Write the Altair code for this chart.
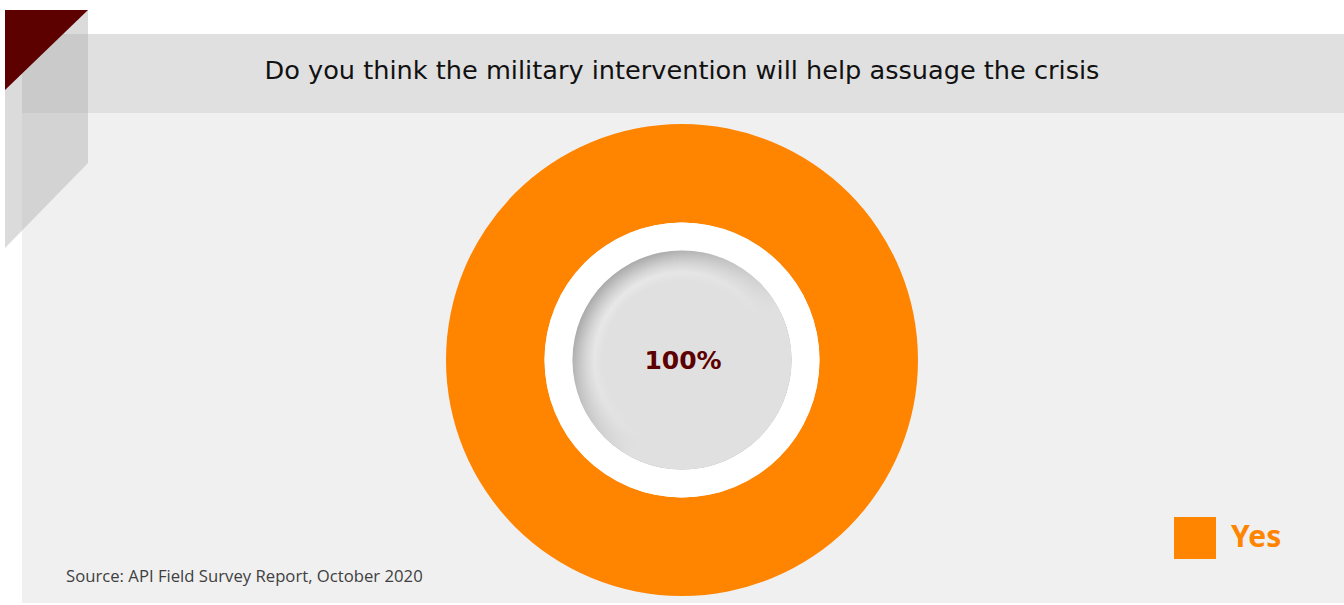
import altair as alt
import pandas as pd

# ---- data ----
categories = ["Yes"]
values = [100]
title_text = "Do you think the military intervention will help assuage the crisis"
source_text = "Source: API Field Survey Report, October 2020"

ORANGE = "#ff8400"
DARK_RED = "#5c0000"

df = pd.DataFrame({"answer": categories, "share": values})
one = pd.DataFrame({"k": [0]})

W, H = 1344, 605
CX, CY = 682, 360

base_one = alt.Chart(one)

panel = base_one.mark_rect(color="#f0f0f0").encode(
    x=alt.value(22), x2=alt.value(1344), y=alt.value(34), y2=alt.value(603))
band = base_one.mark_rect(color="#e0e0e0").encode(
    x=alt.value(22), x2=alt.value(1344), y=alt.value(34), y2=alt.value(113))

para = base_one.mark_point(
    shape="M5,10 L88,10 L88,163 L5,248 Z", size=4, filled=True,
    fill="#b0b0b0", fillOpacity=0.45, opacity=1, strokeWidth=0
).encode(x=alt.value(0), y=alt.value(0))
tri = base_one.mark_point(
    shape="M5,10 L88,10 L5,90 Z", size=4, filled=True,
    fill=DARK_RED, opacity=1, strokeWidth=0
).encode(x=alt.value(0), y=alt.value(0))

donut = alt.Chart(df).mark_arc(outerRadius=236, innerRadius=137.5).encode(
    theta=alt.Theta("share:Q", stack=True),
    color=alt.Color("answer:N",
                    scale=alt.Scale(domain=categories, range=[ORANGE]),
                    legend=alt.Legend(
                        title=None, orient="none", legendX=1174, legendY=517,
                        symbolType="square", symbolSize=1764, symbolStrokeWidth=0,
                        symbolOpacity=1, labelFontSize=30, labelFont="Noto Sans",
                        labelFontWeight="bold", labelColor=ORANGE, labelOffset=15,
                        padding=0)),
    x=alt.value(CX), y=alt.value(CY))

white = base_one.mark_arc(radius=137.5, theta=0, theta2=6.2832, color="white").encode(
    x=alt.value(CX), y=alt.value(CY))

radial = alt.RadialGradient(
    gradient="radial", x1=0.5, y1=0.5, r1=0, x2=0.5, y2=0.5, r2=0.5,
    stops=[alt.GradientStop(offset=0, color="#e0e0e0"),
           alt.GradientStop(offset=0.72, color="#e0e0e0"),
           alt.GradientStop(offset=0.8, color="#e8e8e8"),
           alt.GradientStop(offset=0.88, color="#d2d2d2"),
           alt.GradientStop(offset=1, color="#aaaaaa")])
inner1 = base_one.mark_arc(radius=109.5, theta=0, theta2=6.2832, fill=radial, strokeWidth=0).encode(
    x=alt.value(CX), y=alt.value(CY))

linear = alt.LinearGradient(
    gradient="linear", x1=0.2, y1=0.2, x2=0.6, y2=0.6,
    stops=[alt.GradientStop(offset=0, color="rgba(224,224,224,0)"),
           alt.GradientStop(offset=1, color="rgba(224,224,224,1)")])
inner2 = base_one.mark_arc(radius=109.5, theta=0, theta2=6.2832, fill=linear, strokeWidth=0).encode(
    x=alt.value(CX), y=alt.value(CY))

center_label = alt.Chart(df).transform_calculate(
    lab="format(datum.share, '.0f') + '%'"
).mark_text(font="DejaVu Sans", fontSize=25, fontWeight="bold", color=DARK_RED,
            align="center", baseline="middle").encode(
    text="lab:N", x=alt.value(CX + 1), y=alt.value(CY + 1))

title = base_one.mark_text(text=title_text, font="DejaVu Sans", fontSize=25.6, color="#111111",
                           align="center", baseline="middle").encode(
    x=alt.value(682), y=alt.value(71))

source = base_one.mark_text(text=source_text, font="Open Sans", fontSize=16.7, color="#404040",
                            align="left", baseline="middle").encode(
    x=alt.value(66), y=alt.value(577))

chart = alt.layer(panel, band, para, tri, donut, white, inner1, inner2,
                  center_label, title, source).properties(
    width=W, height=H, padding=0, autosize=alt.AutoSizeParams(type="none"),
    background="white"
).configure_view(stroke=None)

chart.save("out.html", embed_options={"renderer": "svg", "actions": False})
